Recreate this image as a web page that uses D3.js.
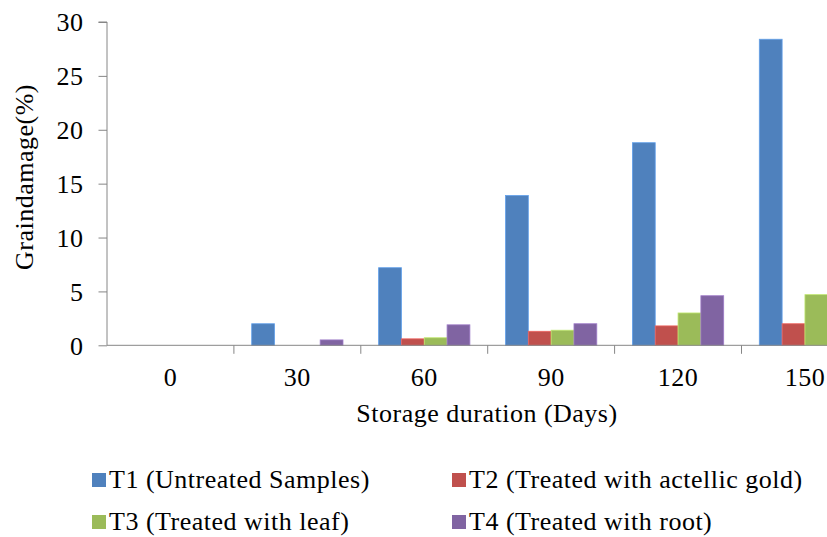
<!DOCTYPE html>
<html>
<head>
<meta charset="utf-8">
<script src="https://cdn.jsdelivr.net/npm/d3@7"></script>
<style>
  html, body { margin: 0; padding: 0; background: #fff; }
  svg { display: block; }
</style>
</head>
<body>
<svg id="chart" width="827" height="537"></svg>
<script>
// Storage duration categories (days)
const days = ["0", "30", "60", "90", "120", "150"];

// Grain damage (%) per treatment
const t1 = [0, 2.0, 7.2, 13.9, 18.8, 28.4];
const t2 = [0, 0, 0.6, 1.3, 1.8, 2.0];
const t3 = [0, 0, 0.7, 1.4, 3.0, 4.7];
const t4 = [0, 0.5, 1.9, 2.0, 4.6, 5.2];

const seriesNames = [
  "T1 (Untreated Samples)",
  "T2 (Treated with actellic gold)",
  "T3 (Treated with leaf)",
  "T4 (Treated with root)"
];
const seriesValues = [t1, t2, t3, t4];
const colors = ["#4F81BD", "#C0504D", "#9BBB59", "#8064A2"];

const yTicks = [0, 5, 10, 15, 20, 25, 30];

const FONT = "'Liberation Serif', 'Times New Roman', 'DejaVu Serif', serif";

const svg = d3.select("#chart");
const W = 827, H = 537;

const plotLeft = 107, plotTop = 22, plotBottom = 345.3;
const bandStep = 126.9;

const x0 = d3.scaleBand()
  .domain(days)
  .range([plotLeft, plotLeft + bandStep * days.length])
  .paddingInner(0).paddingOuter(0);

const x1 = d3.scaleBand()
  .domain(d3.range(seriesNames.length))
  .range([0, x0.bandwidth()])
  .paddingOuter(0.78)
  .paddingInner(0);

const y = d3.scaleLinear().domain([0, 30]).range([plotBottom, plotTop]);

const axisColor = "#868686";

function serif(sel) {
  return sel.style("font-family", FONT)
    .style("font-size", "26px")
    .style("letter-spacing", "0.5px")
    .attr("fill", "#000");
}

// Bars
const groups = svg.append("g")
  .selectAll("g")
  .data(days)
  .join("g")
  .attr("transform", d => `translate(${x0(d)},0)`);

groups.selectAll("rect")
  .data((d, i) => seriesValues.map((vals, s) => ({ s, v: vals[i] })).filter(e => e.v > 0))
  .join("rect")
  .attr("x", d => x1(d.s))
  .attr("y", d => y(d.v))
  .attr("width", x1.bandwidth())
  .attr("height", d => y(0) - y(d.v))
  .attr("fill", d => colors[d.s])
  .attr("stroke", d => d3.color(colors[d.s]).brighter(0.6))
  .attr("stroke-width", 0.8);

// Y axis
const yAxis = d3.axisLeft(y).tickValues(yTicks).tickSize(8.5).tickPadding(15);
const gy = svg.append("g").attr("transform", `translate(${plotLeft},0)`).call(yAxis);
gy.select(".domain").attr("stroke", axisColor).attr("d", `M-8.5,${plotTop}H0V${plotBottom}`);
gy.selectAll(".tick line").attr("stroke", axisColor);
gy.selectAll(".tick text").call(serif).attr("dy", "0.34em");

// X axis: baseline with tick marks between categories
const gx = svg.append("g").attr("transform", `translate(0,${plotBottom})`);
gx.append("line")
  .attr("x1", plotLeft).attr("x2", W)
  .attr("stroke", axisColor).attr("stroke-width", 1);
gx.selectAll("line.tk")
  .data(days.slice(1))
  .join("line")
  .attr("class", "tk")
  .attr("x1", d => x0(d)).attr("x2", d => x0(d))
  .attr("y1", 0).attr("y2", 8.5)
  .attr("stroke", axisColor);
gx.selectAll("text")
  .data(days)
  .join("text")
  .attr("x", d => x0(d) + x0.bandwidth() / 2)
  .attr("y", 41)
  .attr("text-anchor", "middle")
  .call(serif)
  .text(d => d);

// Axis titles
svg.append("text")
  .attr("x", 487)
  .attr("y", 422)
  .attr("text-anchor", "middle")
  .call(serif)
  .text("Storage duration (Days)");

svg.append("text")
  .attr("transform", "translate(33,177) rotate(-90)")
  .attr("text-anchor", "middle")
  .call(serif)
  .text("Graindamage(%)");

// Legend (2 x 2)
const legendPos = [
  { x: 92, y: 488 },
  { x: 452, y: 488 },
  { x: 92, y: 530 },
  { x: 452, y: 530 }
];
const legend = svg.append("g")
  .selectAll("g")
  .data(seriesNames)
  .join("g")
  .attr("transform", (d, i) => `translate(${legendPos[i].x},${legendPos[i].y})`);
legend.append("rect")
  .attr("x", 0).attr("y", -15)
  .attr("width", 14).attr("height", 14)
  .attr("fill", (d, i) => colors[i]);
legend.append("text")
  .attr("x", 17)
  .attr("y", 0)
  .call(serif)
  .text(d => d);
</script>
</body>
</html>
